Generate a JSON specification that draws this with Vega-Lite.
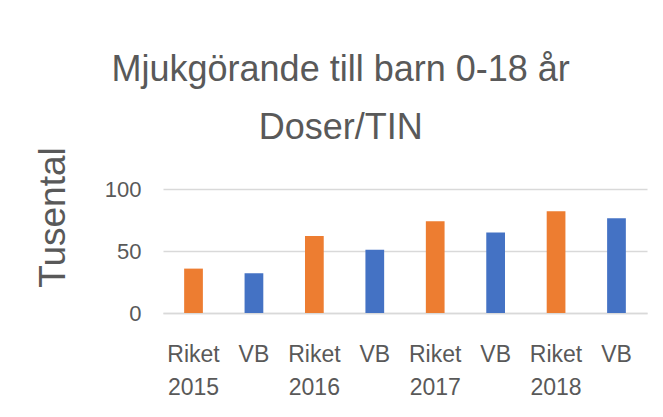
{
  "$schema": "https://vega.github.io/schema/vega-lite/v6.json",
  "width": 484,
  "height": 124,
  "padding": {"left": 34, "top": 51, "right": 16, "bottom": 10},
  "background": "white",
  "title": {
    "text": ["Mjukgörande till barn 0-18 år", "Doser/TIN"],
    "fontSize": 36,
    "font": "Liberation Sans",
    "fontWeight": "normal",
    "color": "#595959",
    "lineHeight": 58,
    "anchor": "middle",
    "frame": "bounds",
    "offset": 0
  },
  "data": {
    "values": [
      {"kategori": "Riket 2015", "serie": "Riket", "tusental": 35.8},
      {"kategori": "VB 2015", "serie": "VB", "tusental": 32},
      {"kategori": "Riket 2016", "serie": "Riket", "tusental": 62},
      {"kategori": "VB 2016", "serie": "VB", "tusental": 51},
      {"kategori": "Riket 2017", "serie": "Riket", "tusental": 74},
      {"kategori": "VB 2017", "serie": "VB", "tusental": 65},
      {"kategori": "Riket 2018", "serie": "Riket", "tusental": 82},
      {"kategori": "VB 2018", "serie": "VB", "tusental": 76.5}
    ]
  },
  "mark": {"type": "bar"},
  "encoding": {
    "x": {
      "field": "kategori",
      "type": "nominal",
      "sort": null,
      "scale": {"paddingInner": 0.69, "paddingOuter": 0.35},
      "axis": {
        "title": null,
        "labelAngle": 0,
        "labelExpr": "indexof(datum.value, 'Riket') == 0 ? split(datum.value, ' ') : 'VB'",
        "labelFont": "Liberation Sans",
        "labelFontSize": 23,
        "labelColor": "#595959",
        "labelLineHeight": 33,
        "labelPadding": 30,
        "ticks": false,
        "domainColor": "#d9d9d9",
        "domainWidth": 1.5,
        "grid": false
      }
    },
    "y": {
      "field": "tusental",
      "type": "quantitative",
      "scale": {"domain": [0, 100]},
      "axis": {
        "title": "Tusental",
        "titleFont": "Liberation Sans",
        "titleFontSize": 37,
        "titleFontWeight": "normal",
        "titleColor": "#595959",
        "titlePadding": 32,
        "titleY": 28,
        "values": [0, 50, 100],
        "labelFont": "Liberation Sans",
        "labelFontSize": 22,
        "labelColor": "#595959",
        "labelPadding": 22,
        "ticks": false,
        "domain": false,
        "gridColor": "#d9d9d9",
        "gridWidth": 1.5
      }
    },
    "color": {
      "field": "serie",
      "type": "nominal",
      "scale": {"domain": ["Riket", "VB"], "range": ["#ED7D31", "#4472C4"]},
      "legend": null
    }
  },
  "config": {"view": {"stroke": null}}
}
